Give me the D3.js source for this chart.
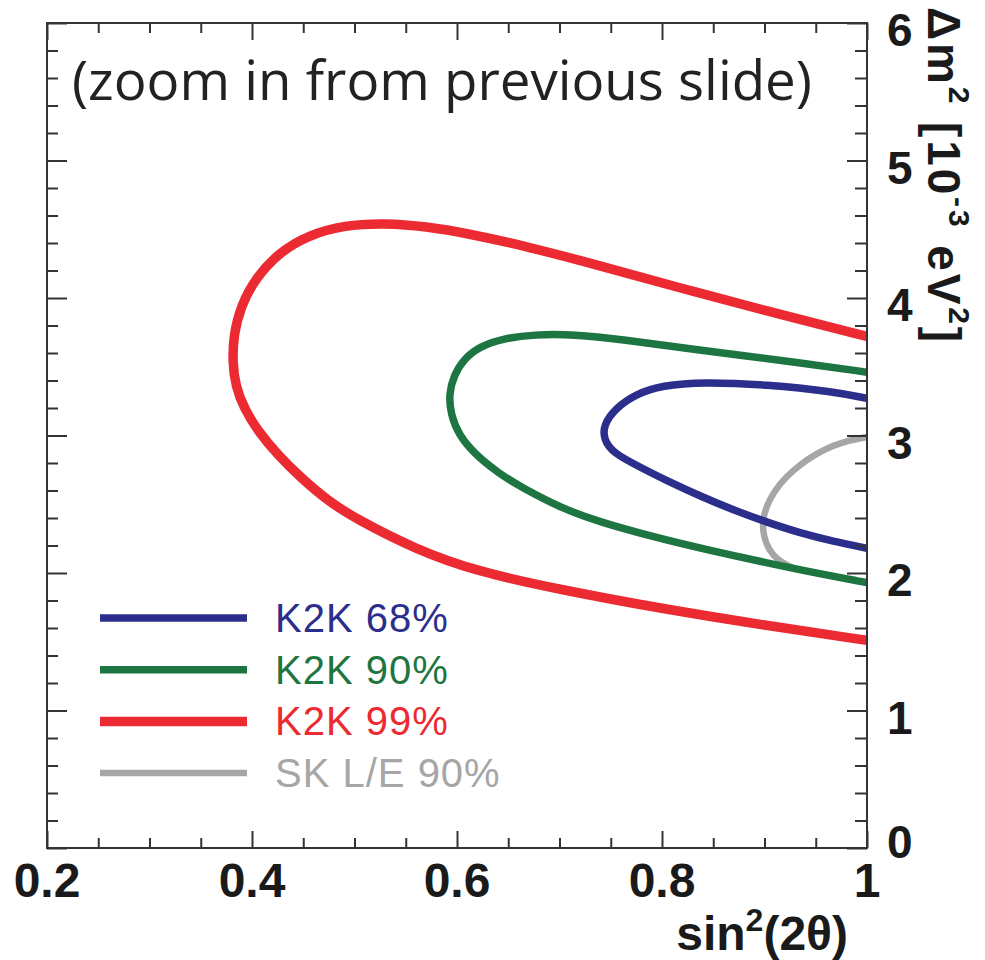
<!DOCTYPE html>
<html>
<head>
<meta charset="utf-8">
<script src="https://cdn.jsdelivr.net/npm/d3@7"></script>
<style>
  html, body { margin: 0; padding: 0; background: #fff; }
  svg { display: block; }
</style>
</head>
<body>
<svg id="chart" width="985" height="960"></svg>
<script>
// Axis ranges and tick labels
const xDomain = [0.2, 1.0];
const yDomain = [0, 6];
const xMajorTicks = [0.2, 0.4, 0.6, 0.8, 1.0];
const xTickLabels = ["0.2", "0.4", "0.6", "0.8", "1"];
const yMajorTicks = [0, 1, 2, 3, 4, 5, 6];
const yTickLabels = ["0", "1", "2", "3", "4", "5", "6"];

// Allowed-region contours: [sin^2(2θ), Δm^2 (10^-3 eV^2)]
const contourK2K99 = [
  [1.000, 3.72], [0.905, 3.90], [0.824, 4.06], [0.742, 4.23], [0.671, 4.37],
  [0.610, 4.47], [0.570, 4.52], [0.530, 4.545], [0.490, 4.53], [0.456, 4.46],
  [0.426, 4.33], [0.403, 4.14], [0.389, 3.94], [0.382, 3.73], [0.381, 3.53],
  [0.384, 3.36], [0.392, 3.20], [0.406, 3.03], [0.425, 2.86], [0.448, 2.69],
  [0.475, 2.52], [0.500, 2.40], [0.560, 2.17], [0.620, 2.01], [0.700, 1.88],
  [0.800, 1.74], [0.900, 1.62], [1.000, 1.51]
];
const contourK2K90 = [
  [1.000, 3.46], [0.935, 3.53], [0.837, 3.62], [0.759, 3.70], [0.715, 3.735],
  [0.675, 3.735], [0.645, 3.705], [0.623, 3.65], [0.607, 3.56], [0.597, 3.44],
  [0.592, 3.30], [0.594, 3.15], [0.602, 3.00], [0.618, 2.86], [0.640, 2.73],
  [0.661, 2.63], [0.705, 2.46], [0.740, 2.37], [0.788, 2.27], [0.837, 2.18],
  [0.935, 2.02], [1.000, 1.93]
];
const contourK2K68 = [
  [1.000, 3.27], [0.967, 3.32], [0.902, 3.37], [0.840, 3.39], [0.800, 3.365],
  [0.774, 3.30], [0.755, 3.20], [0.743, 3.08], [0.743, 2.97], [0.753, 2.87],
  [0.776, 2.78], [0.805, 2.67], [0.837, 2.56], [0.869, 2.46], [0.902, 2.37],
  [0.935, 2.29], [0.967, 2.23], [1.000, 2.18]
];
const contourSK90 = [
  [1.000, 2.99], [0.983, 2.965], [0.966, 2.925], [0.950, 2.865], [0.935, 2.79],
  [0.921, 2.70], [0.910, 2.60], [0.902, 2.49], [0.898, 2.38], [0.899, 2.27],
  [0.904, 2.17], [0.913, 2.09], [0.927, 2.04]
];

// Legend entries
const legendLabels = ["K2K 68%", "K2K 90%", "K2K 99%", "SK L/E 90%"];
const legendColors = ["#2c2e8c", "#1d7541", "#ec2a31", "#a6a6a6"];
const legendWidths = [7.5, 7.5, 9.5, 6.5];

const svg = d3.select("#chart");
const plot = { left: 47, right: 867, top: 23, bottom: 848 };

const x = d3.scaleLinear().domain(xDomain).range([plot.left, plot.right]);
const y = d3.scaleLinear().domain(yDomain).range([plot.bottom, plot.top]);

const boldFont = "'Liberation Sans', Arial, Helvetica, sans-serif";

svg.append("clipPath").attr("id", "plot-clip")
  .append("rect")
  .attr("x", plot.left).attr("y", plot.top)
  .attr("width", plot.right - plot.left).attr("height", plot.bottom - plot.top);

// Contour lines (SK drawn first so the K2K lines lie over it)
const line = d3.line().x(d => x(d[0])).y(d => y(d[1])).curve(d3.curveBasis);
const contours = [
  { data: contourSK90, color: legendColors[3], width: legendWidths[3] },
  { data: contourK2K99, color: legendColors[2], width: legendWidths[2] },
  { data: contourK2K90, color: legendColors[1], width: legendWidths[1] },
  { data: contourK2K68, color: legendColors[0], width: legendWidths[0] }
];
const curves = svg.append("g").attr("clip-path", "url(#plot-clip)");
contours.forEach(c => {
  curves.append("path")
    .attr("d", line(c.data))
    .attr("fill", "none")
    .attr("stroke", c.color)
    .attr("stroke-width", c.width)
    .attr("stroke-linejoin", "round")
    .attr("stroke-linecap", "butt");
});

// Minor tick positions
const xMinor = d3.range(0, 17).map(i => 0.2 + i * 0.05).filter(v => !xMajorTicks.some(m => Math.abs(m - v) < 1e-6));
const yMinor = d3.range(0, 31).map(i => i * 0.2).filter(v => !yMajorTicks.some(m => Math.abs(m - v) < 1e-6));

function tickAxis(axisFn, scale, values, size, transform) {
  const g = svg.append("g").attr("transform", transform)
    .call(axisFn(scale).tickValues(values).tickSize(size).tickSizeOuter(0).tickFormat(""));
  g.select(".domain").remove();
  g.selectAll(".tick line").attr("stroke", "#333").attr("stroke-width", 2);
  return g;
}

// Inward ticks on all four sides
tickAxis(d3.axisBottom, x, xMajorTicks, -17, `translate(0,${plot.bottom})`);
tickAxis(d3.axisBottom, x, xMinor, -10, `translate(0,${plot.bottom})`);
tickAxis(d3.axisTop, x, xMajorTicks, -17, `translate(0,${plot.top})`);
tickAxis(d3.axisTop, x, xMinor, -10, `translate(0,${plot.top})`);
tickAxis(d3.axisLeft, y, yMajorTicks, -20, `translate(${plot.left},0)`);
tickAxis(d3.axisLeft, y, yMinor, -11, `translate(${plot.left},0)`);
tickAxis(d3.axisRight, y, yMajorTicks, -20, `translate(${plot.right},0)`);
tickAxis(d3.axisRight, y, yMinor, -12, `translate(${plot.right},0)`);

// Frame
svg.append("rect")
  .attr("x", plot.left).attr("y", plot.top)
  .attr("width", plot.right - plot.left).attr("height", plot.bottom - plot.top)
  .attr("fill", "none").attr("stroke", "#333").attr("stroke-width", 2);

// X tick labels
svg.append("g").selectAll("text").data(xMajorTicks).join("text")
  .attr("x", d => x(d))
  .attr("y", plot.bottom + 49)
  .attr("text-anchor", "middle")
  .attr("font-family", boldFont).attr("font-weight", "bold").attr("font-size", 48)
  .attr("fill", "#1a1a1a")
  .text((d, i) => xTickLabels[i]);

// Y tick labels (right side)
svg.append("g").selectAll("text").data(yMajorTicks).join("text")
  .attr("x", plot.right + 20)
  .attr("y", d => Math.min(y(d) + 23, plot.bottom + 10))
  .attr("text-anchor", "start")
  .attr("font-family", boldFont).attr("font-weight", "bold").attr("font-size", 46)
  .attr("fill", "#1a1a1a")
  .text((d, i) => yTickLabels[i]);

// X axis title
const xTitle = svg.append("text")
  .attr("x", 848).attr("y", 950)
  .attr("text-anchor", "end")
  .attr("font-family", boldFont).attr("font-weight", "bold").attr("font-size", 48)
  .attr("fill", "#1a1a1a");
xTitle.append("tspan").text("sin");
xTitle.append("tspan").attr("font-size", 32).attr("dy", -19).text("2");
xTitle.append("tspan").attr("dy", 19).text("(2θ)");

// Y axis title, rotated to read downward
const yTitle = svg.append("text")
  .attr("transform", "translate(928,7) rotate(90)")
  .attr("text-anchor", "start")
  .attr("font-family", boldFont).attr("font-weight", "bold").attr("font-size", 46)
  .attr("fill", "#1a1a1a");
yTitle.append("tspan").text("Δm");
yTitle.append("tspan").attr("font-size", 30).attr("dy", -21).text("2");
yTitle.append("tspan").attr("dy", 21).text(" [10");
yTitle.append("tspan").attr("font-size", 30).attr("dy", -21).text("-3");
yTitle.append("tspan").attr("dy", 21).text(" eV");
yTitle.append("tspan").attr("font-size", 30).attr("dy", -21).text("2");
yTitle.append("tspan").attr("dy", 21).text("]");
{
  const len = yTitle.node().getComputedTextLength();
  const n = "Δm2 [10-3 eV2]".length;
  yTitle.attr("letter-spacing", Math.max(0, (338 - len) / n));
}

// Annotation
const note = svg.append("text")
  .attr("x", 72).attr("y", 100)
  .attr("font-family", "'Open Sans', 'DejaVu Sans', sans-serif")
  .attr("font-size", 52)
  .attr("fill", "#222")
  .text("(zoom in from previous slide)");
{
  const len = note.node().getComputedTextLength();
  note.attr("font-size", 52 * 740 / len);
}

// Legend
const legend = svg.append("g");
legendLabels.forEach((label, i) => {
  const ly = 618 + i * 51.7;
  legend.append("line")
    .attr("x1", 100).attr("x2", 247).attr("y1", ly).attr("y2", ly)
    .attr("stroke", legendColors[i]).attr("stroke-width", legendWidths[i]);
  legend.append("text")
    .attr("x", 275).attr("y", ly + 14)
    .attr("font-family", "'Liberation Sans', Arial, Helvetica, sans-serif")
    .attr("font-size", 40)
    .attr("letter-spacing", 1)
    .attr("fill", legendColors[i])
    .text(label);
});
</script>
</body>
</html>
